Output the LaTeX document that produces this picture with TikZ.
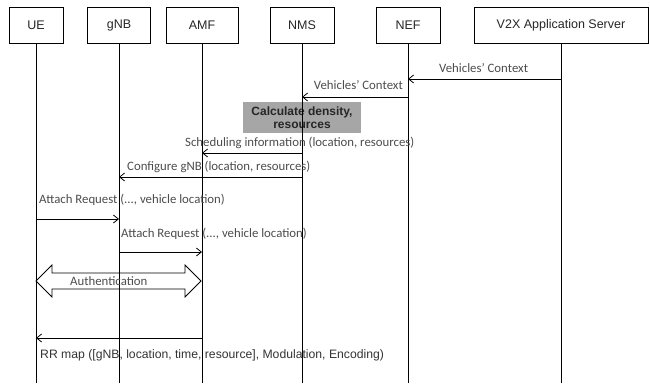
\documentclass[tikz,border=0pt]{standalone}
\usepackage{fontspec}
\setmainfont{Liberation Sans}
\newfontfamily\calfont{Carlito}
\usetikzlibrary{arrows.meta, positioning}

\begin{document}
\begin{tikzpicture}[
    x=1pt, y=-1pt,
    actor/.style={draw, line width=0.8pt, minimum height=36pt, inner sep=0pt, text=black!85, font=\fontsize{12.5}{15}\selectfont},
    life/.style={line width=0.8pt},
    msg/.style={-{Straight Barb[length=5pt, width=8pt]}, line width=0.8pt},
    lbl/.style={inner sep=0pt, text=black!70, font=\calfont\fontsize{12.8}{15}\selectfont},
    calcbox/.style={fill=black!35, align=center, inner sep=0pt, minimum width=118pt, minimum height=31pt, text=black!85, font=\bfseries\fontsize{12}{12.5}\selectfont}
]
    \useasboundingbox (0,0) rectangle (650,383);

    % entities along the top
    \node[actor, minimum width=54pt] (ue) at (36,25) {UE};
    \node[actor, minimum width=63pt] (gnb) at (119,25) {gNB};
    \node[actor, minimum width=72pt] (amf) at (202,25) {AMF};
    \node[actor, minimum width=64pt] (nms) at (302,25) {NMS};
    \node[actor, minimum width=64pt] (nef) at (408,25) {NEF};
    \node[actor, minimum width=174pt] (v2x) at (561,25) {V2X Application Server};

    % processing step in the NMS
    \node[calcbox] (calc) at (302,117.5) {Calculate density,\\resources};

    % lifelines
    \coordinate (bottom) at (0,383);
    \foreach \n in {ue,gnb,amf,nms,nef,v2x}
        \draw[life] (\n.south) -- (\n |- bottom);

    % message rows
    \coordinate (m1) at (0,79);
    \coordinate (m2) at (0,97);
    \coordinate (m3) at (0,153);
    \coordinate (m4) at (0,177);
    \coordinate (m5) at (0,219);
    \coordinate (m6) at (0,252);
    \coordinate (au) at (0,281);
    \coordinate (m7) at (0,338);

    \draw[msg] (v2x |- m1) -- (nef |- m1);
    \node[lbl, anchor=base west] (t1) at (439,72) {Vehicles’ Context};

    \draw[msg] (nef |- m2) -- (nms |- m2);
    \node[lbl, anchor=base east] (t2) at (403,89) {Vehicles’ Context};

    \draw[msg] (nms |- m3) -- (amf |- m3);
    \node[lbl, anchor=base west] (t3) at (185,146) {Scheduling information (location, resources)};

    \draw[msg] (nms |- m4) -- (gnb |- m4);
    \node[lbl, anchor=base west] (t4) at (127,170) {Configure gNB (location, resources)};

    \draw[msg] (ue |- m5) -- (gnb |- m5);
    \node[lbl, anchor=base west] (t5) at (39,203) {Attach Request (..., vehicle location)};

    \draw[msg] (gnb |- m6) -- (amf |- m6);
    \node[lbl, anchor=base west] (t6) at (121,237) {Attach Request (..., vehicle location)};

    % authentication block arrow
    \draw[line width=0.8pt] (ue |- au) -- ++(16,-16) -- ++(0,8) -- ++(133,0) -- ++(0,-8)
        -- ++(16,16) -- ++(-16,16) -- ++(0,-8) -- ++(-133,0) -- ++(0,8) -- cycle;
    \node[lbl, anchor=base west] (t7) at (70,285) {Authentication};

    \draw[msg] (amf |- m7) -- (ue |- m7);
    \node[lbl, anchor=base west, text=black!80, font=\fontsize{12.2}{14}\selectfont] (t8) at (40,358)
        {RR map ([gNB, location, time, resource], Modulation, Encoding)};
\end{tikzpicture}
\end{document}
